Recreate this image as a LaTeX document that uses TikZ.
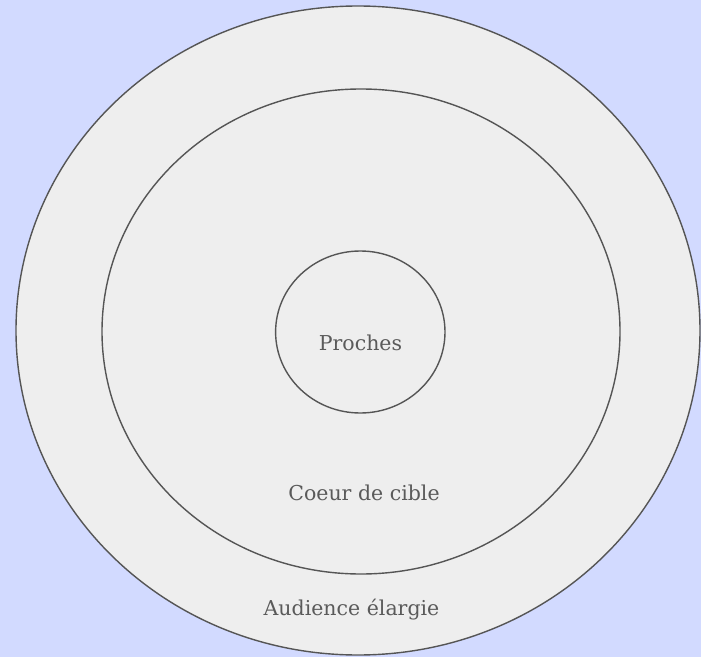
\documentclass[tikz,border=0pt]{standalone}
\usepackage{fontspec}
\setmainfont{DejaVu Serif}
\definecolor{bgblue}{HTML}{D2DAFF}
\definecolor{ringfill}{HTML}{EEEEEE}
\definecolor{ringline}{HTML}{555555}
\definecolor{txt}{HTML}{5A5A5A}
\begin{document}
\begin{tikzpicture}[x=1bp,y=-1bp,
  ring/.style={draw=ringline,fill=ringfill,line width=1.4bp},
  lbl/.style={anchor=base,text=txt,font=\fontsize{20.5bp}{24bp}\selectfont,inner sep=0pt}]
\fill[bgblue] (0,0) rectangle (701,657);
\useasboundingbox (0,0) rectangle (701,657);
\draw[ring] (358,330.5) ellipse [x radius=342,y radius=324.5];
\draw[ring] (361,331.5) ellipse [x radius=259,y radius=242.5];
\draw[ring] (360.3,332) ellipse [x radius=84.7,y radius=81];
\node[lbl] (proches) at (360.5,350) {Proches};
\node[lbl] (coeur) at (364,500) {Coeur de cible};
\node[lbl] (audience) at (351.5,615) {Audience élargie};
\end{tikzpicture}
\end{document}
